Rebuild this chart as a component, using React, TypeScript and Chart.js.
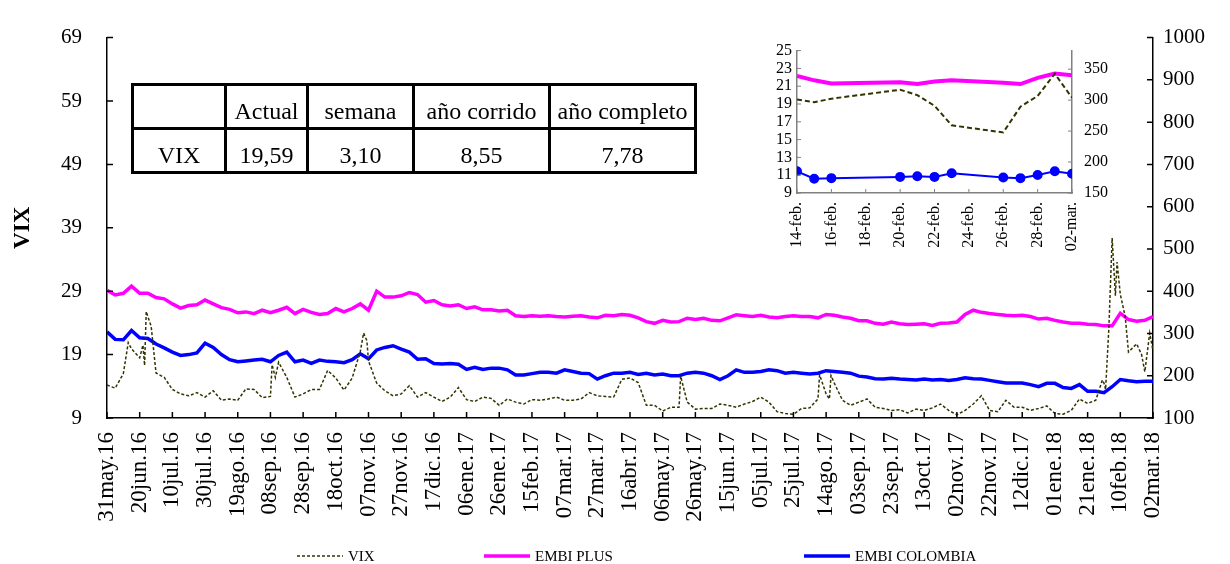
import React, { useEffect, useRef } from 'react';
import { Chart, registerables } from 'chart.js';

Chart.register(...registerables);

const SERIF = "'Liberation Serif', 'Times New Roman', serif";

// ---------------- main chart data ----------------
const SAMPLE_STEP_DAYS = 5; // values below are sampled every 5 calendar days from 31may.16
const X_TICK_STEP_DAYS = 20;
const X_TICK_LABELS = [
  '31may.16', '20jun.16', '10jul.16', '30jul.16', '19ago.16', '08sep.16', '28sep.16', '18oct.16',
  '07nov.16', '27nov.16', '17dic.16', '06ene.17', '26ene.17', '15feb.17', '07mar.17', '27mar.17',
  '16abr.17', '06may.17', '26may.17', '15jun.17', '05jul.17', '25jul.17', '14ago.17', '03sep.17',
  '23sep.17', '13oct.17', '02nov.17', '22nov.17', '12dic.17', '01ene.18', '21ene.18', '10feb.18',
  '02mar.18',
];

const VIX = [
  14.2, 13.7, 16.0, 19.9, 18.5, 25.0, 16.1, 15.4, 13.5, 12.8,
  12.5, 13.0, 12.3, 13.3, 11.8, 12.0, 11.8, 13.6, 13.5, 12.2,
  12.4, 17.8, 15.4, 12.3, 12.8, 13.5, 13.5, 16.5, 15.3, 13.4,
  15.3, 19.5, 18.0, 14.5, 13.3, 12.5, 12.8, 14.1, 12.3, 13.0,
  12.3, 11.6, 12.3, 13.8, 11.9, 11.6, 12.3, 12.1, 11.0, 12.0,
  11.5, 11.2, 11.9, 11.8, 12.0, 12.3, 11.8, 11.8, 12.0, 13.0,
  12.5, 12.4, 12.3, 15.1, 15.3, 14.6, 11.0, 11.0, 10.1, 10.7,
  10.7, 11.5, 10.4, 10.5, 10.5, 11.2, 11.0, 10.7, 11.2, 11.6,
  12.3, 11.5, 10.0, 9.7, 9.6, 10.5, 10.6, 12.0, 12.8, 14.5,
  11.8, 11.0, 11.5, 12.0, 10.7, 10.5, 10.2, 10.3, 9.8, 10.4,
  10.2, 10.6, 11.2, 10.2, 9.5, 10.2, 11.2, 12.5, 10.2, 10.0,
  11.8, 10.7, 10.7, 10.2, 10.5, 10.9, 9.7, 9.6, 10.2, 12.0,
  11.3, 11.8, 14.5, 37.4, 28.5, 19.4, 20.7, 16.3, 19.6,
];
const VIX_SPIKE_DAYS = [13, 22, 23, 24, 27, 101, 103, 157, 159, 351, 436, 442, 443, 609, 611, 613, 617, 618, 623, 633, 638];
const VIX_SPIKE_VALUES = [20.9, 20.5, 17.3, 25.8, 23.5, 17.4, 15.4, 22.4, 21.2, 15.6, 15.8, 12.0, 15.7, 15.0, 13.5, 23.2, 28.3, 33.6, 25.0, 19.0, 22.4];

const EMBI_PLUS = [
  402, 391, 395, 412, 395, 395, 385, 382, 370, 360,
  366, 368, 379, 370, 361, 357, 349, 351, 347, 355,
  349, 355, 362, 347, 357, 350, 345, 347, 359, 351,
  359, 370, 355, 400, 386, 386, 389, 397, 392, 374,
  378, 368, 365, 368, 359, 363, 356, 356, 353, 355,
  342, 340, 342, 341, 342, 340, 339, 341, 342, 339,
  337, 343, 342, 345, 343, 337, 328, 324, 331, 327,
  328, 336, 333, 336, 331, 330, 337, 344, 342, 340,
  343, 339, 337, 340, 342, 340, 340, 337, 345, 343,
  339, 336, 330, 330, 324, 322, 327, 323, 321, 322,
  323, 319, 324, 325, 327, 345, 355, 350, 347, 345,
  343, 342, 343, 340, 334, 336, 331, 327, 324, 324,
  322, 321, 318, 318, 348, 333, 329, 331, 340,
];

const EMBI_COLOMBIA = [
  304, 286, 285, 307, 290, 288, 275, 266, 256, 248,
  250, 254, 277, 267, 250, 238, 233, 235, 237, 239,
  233, 248, 256, 233, 237, 229, 237, 234, 233, 231,
  238, 252, 240, 261, 267, 271, 263, 256, 239, 240,
  229, 228, 229, 227, 215, 220, 215, 218, 218, 214,
  202, 202, 205, 208, 208, 206, 214, 210, 206, 205,
  192, 200, 206, 206, 208, 203, 206, 202, 204, 200,
  200, 206, 208, 206, 200, 191, 200, 214, 208, 208,
  210, 214, 212, 206, 208, 206, 204, 206, 212, 210,
  208, 206, 199, 197, 193, 192, 194, 192, 191, 190,
  192, 190, 191, 189, 191, 195, 193, 192, 189, 186,
  183, 183, 183, 179, 174, 182, 182, 172, 170, 179,
  163, 163, 160, 174, 191, 188, 186, 187, 187,
];

const VIX_AXIS = { min: 9, max: 69, step: 10 };
const EMBI_AXIS = { min: 100, max: 1000, step: 100 };

// ---------------- inset data ----------------
const INSET_DAYS = [0, 1, 2, 6, 7, 8, 9, 12, 13, 14, 15, 16];
const INSET_TICK_LABELS = ['14-feb.', '16-feb.', '18-feb.', '20-feb.', '22-feb.', '24-feb.', '26-feb.', '28-feb.', '02-mar.'];
const INSET_VIX = [19.5, 19.2, 19.6, 20.6, 20.0, 18.8, 16.6, 15.8, 18.7, 19.9, 22.4, 19.7];
const INSET_EMBI_PLUS = [339, 332, 327, 329, 326, 330, 332, 328, 326, 336, 343, 340];
const INSET_EMBI_COLOMBIA = [185, 173, 174, 176, 177, 176, 182, 175, 174, 179, 185, 181];
const INSET_VIX_AXIS = { min: 9, max: 25, step: 2 };
const INSET_EMBI_AXIS = { min: 150, max: 380, step: 50, lastLabel: 350 };

// ---------------- table ----------------
const TABLE_HEADERS = ['', 'Actual', 'semana', 'año corrido', 'año completo'];
const TABLE_ROW = ['VIX', '19,59', '3,10', '8,55', '7,78'];
const TABLE_COL_EDGES = [132, 225, 307, 413, 549, 695];
const TABLE_ROW_EDGES = [84, 128, 172];

const COLORS = { vix: '#333300', plus: '#FF00FF', col: '#0000FF' };

const plainNumber = (v: any) => String(v);

const insideTicks = {
  id: 'insideTicks',
  afterDraw(chart: any, _a: any, opts: any) {
    const { ctx, chartArea } = chart;
    const len = opts.length ?? 6;
    ctx.save();
    ctx.strokeStyle = opts.color ?? '#000';
    ctx.lineWidth = opts.lineWidth ?? 1.5;
    ctx.beginPath();
    const sx = chart.scales.x;
    sx.ticks.forEach((t: any) => {
      const p = sx.getPixelForValue(t.value);
      ctx.moveTo(p, chartArea.bottom);
      ctx.lineTo(p, chartArea.bottom - len);
    });
    const sy = chart.scales.y;
    sy.ticks.forEach((t: any) => {
      const p = sy.getPixelForValue(t.value);
      ctx.moveTo(chartArea.left, p);
      ctx.lineTo(chartArea.left + len, p);
    });
    const sy1 = chart.scales.y1;
    sy1.ticks.forEach((t: any) => {
      const p = sy1.getPixelForValue(t.value);
      ctx.moveTo(chartArea.right, p);
      ctx.lineTo(chartArea.right - len, p);
    });
    ctx.stroke();
    ctx.restore();
  },
};

const bottomLegend = {
  id: 'bottomLegend',
  afterDraw(chart: any, _a: any, opts: any) {
    if (!opts || !opts.starts) return;
    const { ctx } = chart;
    chart.data.datasets.forEach((ds: any, i: number) => {
      const x0 = opts.starts[i];
      const y = opts.y;
      ctx.save();
      ctx.strokeStyle = ds.borderColor;
      ctx.lineWidth = opts.lineWidths[i];
      ctx.setLineDash(ds.borderDash || []);
      ctx.beginPath();
      ctx.moveTo(x0, y);
      ctx.lineTo(x0 + opts.lineLength, y);
      ctx.stroke();
      ctx.setLineDash([]);
      ctx.fillStyle = '#000';
      ctx.font = `${opts.fontSize}px ${SERIF}`;
      ctx.textBaseline = 'middle';
      ctx.textAlign = 'left';
      ctx.fillText(ds.label, x0 + opts.lineLength + 5, y + 1);
      ctx.restore();
    });
  },
};

function MainChart() {
  const ref = useRef<HTMLCanvasElement>(null);
  useEffect(() => {
    const toPoints = (vals: number[]) => vals.map((v, i) => ({ x: i * SAMPLE_STEP_DAYS, y: v }));
    const vixPoints = [
      ...toPoints(VIX),
      ...VIX_SPIKE_DAYS.map((d, i) => ({ x: d, y: VIX_SPIKE_VALUES[i] })),
    ].sort((a, b) => a.x - b.x);
    const lastDay = (X_TICK_LABELS.length - 1) * X_TICK_STEP_DAYS;
    const tickFont = { family: SERIF, size: 21 };
    const chart = new Chart(ref.current as HTMLCanvasElement, {
      type: 'line',
      data: {
        datasets: [
          { label: 'VIX', data: vixPoints, yAxisID: 'y', borderColor: COLORS.vix, borderWidth: 1.5, borderDash: [3, 2], pointRadius: 0, tension: 0, order: 0 },
          { label: 'EMBI PLUS', data: toPoints(EMBI_PLUS), yAxisID: 'y1', borderColor: COLORS.plus, borderWidth: 3.5, pointRadius: 0, tension: 0, order: 2 },
          { label: 'EMBI COLOMBIA', data: toPoints(EMBI_COLOMBIA), yAxisID: 'y1', borderColor: COLORS.col, borderWidth: 3.5, pointRadius: 0, tension: 0, order: 1 },
        ],
      } as any,
      options: {
        responsive: false,
        animation: false,
        devicePixelRatio: 1,
        layout: { padding: { top: 25, bottom: 26, left: 0, right: 0 } },
        plugins: {
          legend: { display: false },
          tooltip: { enabled: false },
          insideTicks: { color: '#000', length: 6, lineWidth: 1.5 },
          bottomLegend: { starts: [297, 484, 804], y: 556, lineLength: 46, lineWidths: [1.5, 3.5, 3.5], fontSize: 15 },
        } as any,
        scales: {
          x: {
            type: 'linear',
            min: 0,
            max: lastDay,
            grid: { display: false, drawTicks: false },
            border: { display: true, color: '#000', width: 1.5 },
            ticks: {
              stepSize: X_TICK_STEP_DAYS,
              autoSkip: false,
              minRotation: 90,
              maxRotation: 90,
              padding: 14,
              color: '#000',
              font: { family: SERIF, size: 23 },
              callback: (v: any) => X_TICK_LABELS[Math.round(Number(v) / X_TICK_STEP_DAYS)] ?? '',
            },
            afterFit: (s: any) => { s.height = 120; },
          },
          y: {
            type: 'linear',
            position: 'left',
            min: VIX_AXIS.min,
            max: VIX_AXIS.max,
            grid: { display: false, drawTicks: false },
            border: { display: true, color: '#000', width: 1.5 },
            ticks: { stepSize: VIX_AXIS.step, autoSkip: false, padding: 25, color: '#000', font: tickFont, callback: plainNumber },
            title: { display: true, text: 'VIX', color: '#000', font: { family: SERIF, size: 23, weight: 'bold' }, padding: { top: 9, bottom: 0 } },
            afterFit: (s: any) => { s.width = 107; },
          },
          y1: {
            type: 'linear',
            position: 'right',
            min: EMBI_AXIS.min,
            max: EMBI_AXIS.max,
            grid: { display: false, drawTicks: false },
            border: { display: true, color: '#000', width: 1.5 },
            ticks: { stepSize: EMBI_AXIS.step, autoSkip: false, padding: 10, color: '#000', font: tickFont, callback: plainNumber },
            afterFit: (s: any) => { s.width = 77; },
          },
        },
      } as any,
      plugins: [insideTicks, bottomLegend],
    });
    return () => chart.destroy();
  }, []);
  return <canvas ref={ref} width={1230} height={564} style={{ position: 'absolute', left: 0, top: 0 }} />;
}

function InsetChart() {
  const ref = useRef<HTMLCanvasElement>(null);
  useEffect(() => {
    const pts = (vals: number[]) => vals.map((v, i) => ({ x: INSET_DAYS[i], y: v }));
    const font = { family: SERIF, size: 16 };
    const axisColor = '#808080';
    const chart = new Chart(ref.current as HTMLCanvasElement, {
      type: 'line',
      data: {
        datasets: [
          { label: 'VIX', data: pts(INSET_VIX), yAxisID: 'y', borderColor: COLORS.vix, borderWidth: 2, borderDash: [5, 3], pointRadius: 0, tension: 0 },
          { label: 'EMBI PLUS', data: pts(INSET_EMBI_PLUS), yAxisID: 'y1', borderColor: COLORS.plus, borderWidth: 4, pointRadius: 0, tension: 0 },
          { label: 'EMBI COLOMBIA', data: pts(INSET_EMBI_COLOMBIA), yAxisID: 'y1', borderColor: COLORS.col, borderWidth: 2, pointRadius: 4, pointBackgroundColor: COLORS.col, pointBorderColor: COLORS.col, tension: 0 },
        ],
      } as any,
      options: {
        responsive: false,
        animation: false,
        devicePixelRatio: 1,
        layout: { padding: { top: 10, bottom: 2, left: 0, right: 0 } },
        plugins: {
          legend: { display: false },
          tooltip: { enabled: false },
          insideTicks: { color: axisColor, length: 4, lineWidth: 1 },
        } as any,
        scales: {
          x: {
            type: 'linear',
            min: INSET_DAYS[0],
            max: INSET_DAYS[INSET_DAYS.length - 1],
            grid: { display: false, drawTicks: false },
            border: { display: true, color: axisColor, width: 1.5 },
            ticks: {
              stepSize: 2,
              autoSkip: false,
              minRotation: 90,
              maxRotation: 90,
              padding: 9,
              color: '#000',
              font,
              callback: (v: any) => INSET_TICK_LABELS[Math.round(Number(v) / 2)] ?? '',
            },
            afterFit: (s: any) => { s.height = 59; },
          },
          y: {
            type: 'linear',
            position: 'left',
            min: INSET_VIX_AXIS.min,
            max: INSET_VIX_AXIS.max,
            grid: { display: false, drawTicks: false },
            border: { display: true, color: axisColor, width: 1.5 },
            ticks: { stepSize: INSET_VIX_AXIS.step, autoSkip: false, padding: 5, color: '#000', font, callback: plainNumber },
            afterFit: (s: any) => { s.width = 42; },
          },
          y1: {
            type: 'linear',
            position: 'right',
            min: INSET_EMBI_AXIS.min,
            max: INSET_EMBI_AXIS.max,
            grid: { display: false, drawTicks: false },
            border: { display: true, color: axisColor, width: 1.5 },
            ticks: { stepSize: INSET_EMBI_AXIS.step, autoSkip: false, padding: 12, color: '#000', font, callback: plainNumber },
            afterBuildTicks: (s: any) => { s.ticks = s.ticks.filter((t: any) => t.value <= INSET_EMBI_AXIS.lastLabel); },
            afterFit: (s: any) => { s.width = 53; },
          },
        },
      } as any,
      plugins: [insideTicks],
    });
    return () => chart.destroy();
  }, []);
  return <canvas ref={ref} width={370} height={225} style={{ position: 'absolute', left: 755, top: 29 }} />;
}

function SummaryTable() {
  const rows = [TABLE_HEADERS, TABLE_ROW];
  return (
    <>
      {rows.map((row, r) =>
        row.map((txt, c) => (
          <div
            key={`${r}-${c}`}
            style={{
              position: 'absolute',
              left: TABLE_COL_EDGES[c] - 1,
              top: TABLE_ROW_EDGES[r] - 1,
              width: TABLE_COL_EDGES[c + 1] - TABLE_COL_EDGES[c] + 3,
              height: TABLE_ROW_EDGES[r + 1] - TABLE_ROW_EDGES[r] + 3,
              border: '3px solid #000',
              boxSizing: 'border-box',
              display: 'flex',
              alignItems: 'flex-end',
              justifyContent: 'center',
              paddingBottom: 2,
              fontFamily: SERIF,
              fontSize: 24,
              lineHeight: '28px',
              color: '#000',
              whiteSpace: 'nowrap',
            }}
          >
            {txt}
          </div>
        ))
      )}
    </>
  );
}

export default function App() {
  return (
    <div style={{ position: 'fixed', left: 0, top: 0, width: 1230, height: 564, background: '#fff', overflow: 'hidden' }}>
      <MainChart />
      <InsetChart />
      <SummaryTable />
    </div>
  );
}
